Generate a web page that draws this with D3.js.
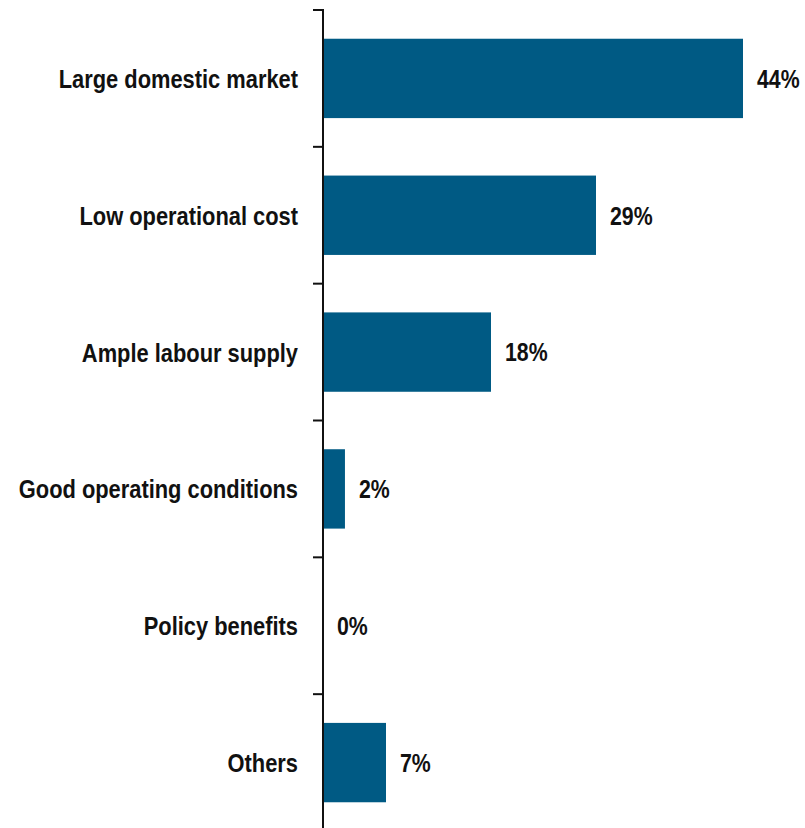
<!DOCTYPE html>
<html><head><meta charset="utf-8">
<script src="https://cdn.jsdelivr.net/npm/d3@7"></script>
<style>body{margin:0;background:#fff;}svg{display:block;}</style>
</head><body>
<svg id="c" width="805" height="828"></svg>
<script>
const categories = ["Large domestic market","Low operational cost","Ample labour supply","Good operating conditions","Policy benefits","Others"];
const values = [44.0, 28.6, 17.6, 2.3, 0.0, 6.6];
const titleText = "Vietnam";

const svg = d3.select("#c");
const axisX = 323;
const y = d3.scaleBand().domain(categories).range([10, 831]).paddingInner(0.42).paddingOuter(0.21);
const x = d3.scaleLinear().domain([0, 44]).range([axisX, 743]);
const font = "'Liberation Sans', Arial, sans-serif";

svg.append("text").attr("x", 21).attr("y", -0.5).attr("fill", "#a8e0d2")
  .attr("font-family", font).attr("font-weight", "bold").attr("font-size", 30).text(titleText);

svg.selectAll("rect.bar").data(values).join("rect").attr("class","bar")
  .attr("x", x(0)).attr("y", (d,i)=>y(categories[i]))
  .attr("width", d=>x(d)-x(0)).attr("height", y.bandwidth())
  .attr("fill", "#005a84");

svg.selectAll("text.val").data(values).join("text").attr("class","val")
  .attr("transform", (d,i)=>`translate(${x(d)+14},${y(categories[i])+y.bandwidth()/2}) scale(0.82,1)`)
  .attr("dy","0.36em").attr("font-family", font).attr("font-weight","bold")
  .attr("font-size", 26).attr("fill","#111")
  .text(d=>Math.round(d)+"%");

// axis
const ticks = d3.range(categories.length).map(i => y.step()*i + 10);
const g = svg.append("g");
g.append("line").attr("x1", axisX).attr("x2", axisX).attr("y1", 9).attr("y2", 828)
  .attr("stroke","#111").attr("stroke-width",2);
g.selectAll("line.tick").data(ticks).join("line").attr("class","tick")
  .attr("x1", axisX-10).attr("x2", axisX).attr("y1", d=>d).attr("y2", d=>d)
  .attr("stroke","#111").attr("stroke-width",2);

svg.selectAll("text.cat").data(categories).join("text").attr("class","cat")
  .attr("transform", d=>`translate(298,${y(d)+y.bandwidth()/2}) scale(0.825,1)`)
  .attr("dy","0.36em")
  .attr("text-anchor","end").attr("font-family", font).attr("font-weight","bold")
  .attr("font-size", 26.5).attr("fill","#111").text(d=>d);
</script>
</body></html>
